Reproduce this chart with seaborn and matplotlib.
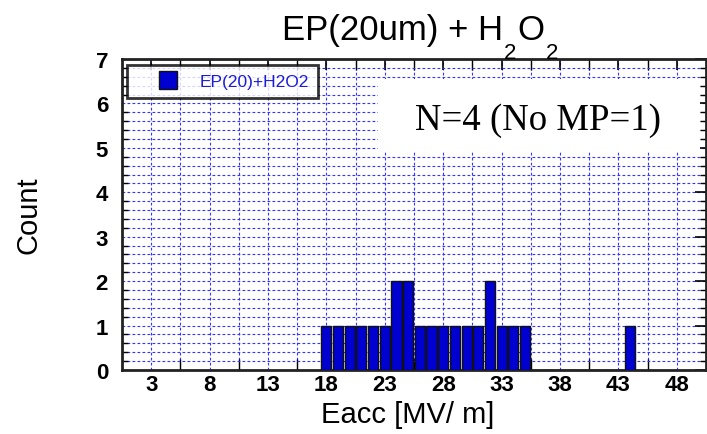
import matplotlib
matplotlib.use("Agg")
import matplotlib.pyplot as plt
import seaborn as sns
import numpy as np
from matplotlib.ticker import MultipleLocator, FixedLocator
from matplotlib.lines import Line2D
from matplotlib.patches import Rectangle

eacc = [18, 19, 20, 21, 22, 23, 24, 25, 26, 27, 28, 29, 30, 31, 32, 33, 34, 35, 44]
counts = [1, 1, 1, 1, 1, 1, 2, 2, 1, 1, 1, 1, 1, 1, 2, 1, 1, 1, 1]
xticks = [3, 8, 13, 18, 23, 28, 33, 38, 43, 48]
xminor = [5.5, 10.5, 15.5, 20.5, 25.5, 30.5, 35.5, 40.5, 45.5]
yticks = [0, 1, 2, 3, 4, 5, 6, 7]
legend_label = "EP(20)+H2O2"
title_parts = ["EP(20um) + H", "2", "O", "2"]
note = "N=4 (No MP=1)"

W, H = 707, 435
BAR = '#0000d0'

sns.set_style("white")
plt.rcParams['font.family'] = ['Liberation Sans', 'DejaVu Sans']
plt.rcParams['text.color'] = 'black'
plt.rcParams['axes.labelcolor'] = 'black'
plt.rcParams['xtick.color'] = 'black'
plt.rcParams['ytick.color'] = 'black'

fig = plt.figure(figsize=(W / 100, H / 100), dpi=100)
ax = fig.add_axes([122 / W, (H - 371) / H, 584 / W, 311 / H])

sns.histplot(x=eacc, weights=counts, discrete=True, shrink=0.86, ax=ax,
             color=BAR, edgecolor='#111111', linewidth=1.0, alpha=1.0, zorder=3)

ax.set_xlim(0.5, 50.5)
ax.set_ylim(0, 7)
ax.xaxis.set_major_locator(FixedLocator(xticks))
ax.xaxis.set_minor_locator(FixedLocator(xminor))
ax.yaxis.set_major_locator(FixedLocator(yticks))
ax.yaxis.set_minor_locator(MultipleLocator(0.2))

ax.grid(which='both', axis='both', color='#3535ff', linestyle=(0, (2.5, 2.0)),
        linewidth=0.8, zorder=0)
ax.set_axisbelow(True)

ax.tick_params(which='major', direction='in', length=8, width=1.2, top=True, right=True)
ax.tick_params(which='major', axis='x', labelsize=16, pad=3)
ax.tick_params(which='major', axis='y', labelsize=16, pad=10)
ax.tick_params(which='minor', axis='x', direction='in', length=8, width=1.0, top=True, bottom=True)
ax.tick_params(which='minor', axis='y', direction='in', length=4, width=1.0, left=True, right=True)
for lab in ax.get_xticklabels() + ax.get_yticklabels():
    lab.set_fontweight('bold')
for s in ax.spines.values():
    s.set_linewidth(2.0)
    s.set_color('#222222')

ax.set_xlabel("Eacc [MV/ m]", fontsize=21)
ax.xaxis.set_label_coords((408 - 122) / 584, -(423 - 371) / 311)
ax.xaxis.label.set_va('baseline')
ax.set_ylabel("Count", fontsize=21, labelpad=38)

# Title with large, deeply dropped subscripts
fig.canvas.draw()
renderer = fig.canvas.get_renderer()
x = 282
sizes = [25, 16, 25, 16]
bases = [40, 59, 40, 59]
gaps = [1, 1, 1, 0]
for part, fs, base, gap in zip(title_parts, sizes, bases, gaps):
    t = fig.text(x / W, 1 - base / H, part, fontsize=fs, ha='left', va='baseline')
    bb = t.get_window_extent(renderer)
    x = bb.x1 + gap

# Note with white background box
fig.patches.append(Rectangle((378 / W, 1 - 153 / H), 322 / W, 73 / H,
                             transform=fig.transFigure, facecolor='white',
                             edgecolor='none', zorder=4))
fig.text(538 / W, 1 - 130 / H, note, fontsize=26.5, family='Liberation Serif',
         ha='center', va='baseline', zorder=5)

handle = Line2D([], [], linestyle='none', marker='s', markersize=13,
                markerfacecolor=BAR, markeredgecolor='#111111', markeredgewidth=1.0)
leg = ax.legend([handle], [legend_label], loc='upper left',
                bbox_to_anchor=(5 / 584, (371 - 66) / 311), borderaxespad=0,
                fontsize=12.5, frameon=True, fancybox=False, handlelength=3.7,
                borderpad=0.5, handletextpad=0.0, labelcolor='#1a1ad8')
leg.get_frame().set_edgecolor('black')
leg.get_frame().set_linewidth(2.0)
leg.set_zorder(6)

fig.savefig("out.png", dpi=100)
